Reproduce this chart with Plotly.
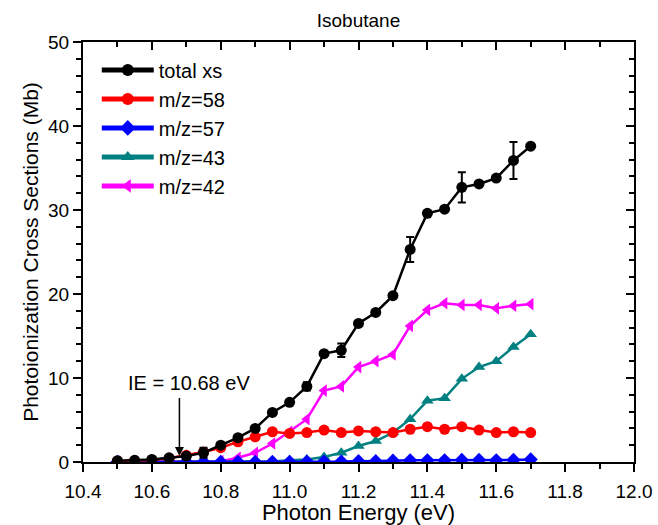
import plotly.graph_objects as go

energy = [10.50, 10.55, 10.60, 10.65, 10.70, 10.75, 10.80, 10.85, 10.90, 10.95,
          11.00, 11.05, 11.10, 11.15, 11.20, 11.25, 11.30, 11.35, 11.40, 11.45,
          11.50, 11.55, 11.60, 11.65, 11.70]

total_xs = [0.15, 0.2, 0.3, 0.5, 0.7, 1.1, 2.0, 2.9, 4.0, 5.9,
            7.1, 9.0, 12.9, 13.3, 16.5, 17.8, 19.8, 25.3, 29.6, 30.1,
            32.7, 33.1, 33.8, 35.9, 37.6]
total_err = [0, 0, 0, 0, 0, 0.6, 0, 0, 0, 0,
             0, 0.5, 0, 0.8, 0, 0, 0, 1.5, 0, 0,
             1.8, 0, 0, 2.2, 0]
mz58 = [0.1, 0.15, 0.25, 0.45, 0.8, 1.2, 1.7, 2.4, 3.0, 3.6,
        3.4, 3.5, 3.8, 3.5, 3.7, 3.6, 3.5, 3.9, 4.2, 3.9,
        4.2, 3.8, 3.5, 3.6, 3.5]
mz57 = [0.0, 0.0, 0.0, 0.0, 0.0, 0.0, 0.0, 0.0, 0.0, 0.0,
        0.02, 0.03, 0.05, 0.05, 0.1, 0.1, 0.15, 0.2, 0.2, 0.2,
        0.25, 0.25, 0.2, 0.25, 0.3]
mz43 = [0.0, 0.0, 0.0, 0.0, 0.0, 0.0, 0.0, 0.0, 0.0, 0.05,
        0.2, 0.3, 0.6, 1.1, 1.9, 2.5, 3.5, 5.1, 7.3, 7.6,
        9.9, 11.3, 12.0, 13.7, 15.2]
mz42 = [0.05, 0.05, 0.05, 0.05, 0.05, 0.1, 0.1, 0.5, 1.1, 2.2,
        3.6, 5.1, 8.5, 9.0, 11.3, 12.0, 12.8, 16.2, 18.1, 18.9,
        18.7, 18.7, 18.3, 18.6, 18.8]

ie_value = 10.68
ie_label = "IE = 10.68 eV"

FONT = "Arial, Liberation Sans, sans-serif"

fig = go.Figure()

series = [
    ("total xs", total_xs, "black", "circle", total_err),
    ("m/z=58", mz58, "#ff0000", "circle", None),
    ("m/z=57", mz57, "#0000ff", "diamond", None),
    ("m/z=43", mz43, "#008080", "triangle-up", None),
    ("m/z=42", mz42, "#ff00ff", "triangle-left", None),
]

for rank, (name, vals, col, sym, err) in reversed(list(enumerate(series))):
    kw = {}
    if err is not None:
        kw["error_y"] = dict(type="data", array=err, visible=True, color=col,
                             thickness=2, width=4)
    fig.add_trace(go.Scatter(
        x=energy, y=vals, name=name, mode="lines+markers",
        line=dict(color=col, width=2.5),
        marker=dict(color=col, symbol=sym, size=11, line=dict(width=0)),
        legendrank=rank + 1, **kw))

# invisible trace for mirrored inside-tick axes
fig.add_trace(go.Scatter(x=[10.4], y=[0], xaxis="x2", yaxis="y2",
                         mode="markers", marker=dict(opacity=0),
                         showlegend=False, hoverinfo="skip"))

fig.add_annotation(x=ie_value, y=0.7, ax=ie_value, ay=7.8, xref="x", yref="y",
                   axref="x", ayref="y", showarrow=True, arrowhead=2,
                   arrowsize=1.2, arrowwidth=1.5, arrowcolor="black", text="")
fig.add_annotation(x=10.525, y=9.4, xref="x", yref="y", text=ie_label,
                   showarrow=False, xanchor="left", yanchor="middle",
                   font=dict(family=FONT, size=20, color="black"))

axis_common = dict(showgrid=False, zeroline=False, linecolor="black",
                   linewidth=2, color="black", automargin=False,
                   tickfont=dict(family=FONT, size=19, color="black"))

fig.update_layout(
    width=658, height=525,
    margin=dict(l=83, r=24, t=42, b=63),
    paper_bgcolor="white", plot_bgcolor="white",
    title=dict(text="Isobutane", x=358.5 / 658, xanchor="center",
               y=1 - 20 / 525, yanchor="middle",
               font=dict(family=FONT, size=19, color="black")),
    showlegend=True,
    legend=dict(x=0.025, y=0.98, xanchor="left", yanchor="top",
                bgcolor="rgba(0,0,0,0)", itemwidth=52,
                font=dict(family=FONT, size=20, color="black"),
                tracegroupgap=0, itemsizing="constant"),
    xaxis=dict(range=[10.4, 12.0], tick0=10.4, dtick=0.2, tickformat=".1f",
               ticks="outside", ticklen=8, tickwidth=2, mirror=True,
               ticklabelstandoff=3,
               minor=dict(dtick=0.1, tick0=10.4, ticks="outside", ticklen=5,
                          tickwidth=2, tickcolor="black"),
               title=dict(text="Photon Energy (eV)", standoff=2,
                          font=dict(family=FONT, size=22, color="black")),
               **axis_common),
    yaxis=dict(range=[0, 50], tick0=0, dtick=10,
               ticks="outside", ticklen=8, tickwidth=2, mirror=True,
               minor=dict(dtick=2, ticks="outside", ticklen=5, tickwidth=2,
                          tickcolor="black"),
               title=dict(text="Photoionization Cross Sections (Mb)", standoff=4,
                          font=dict(family=FONT, size=21, color="black")),
               **axis_common),
    xaxis2=dict(range=[10.4, 12.0], overlaying="x", side="top", tick0=10.4,
                dtick=0.2, ticks="inside", ticklen=8, tickwidth=2,
                showticklabels=False, showgrid=False, zeroline=False,
                showline=False, tickcolor="black", automargin=False,
                minor=dict(dtick=0.1, tick0=10.4, ticks="inside", ticklen=5,
                           tickwidth=2, tickcolor="black")),
    yaxis2=dict(range=[0, 50], overlaying="y", side="right", tick0=0, dtick=10,
                ticks="inside", ticklen=8, tickwidth=2, showticklabels=False,
                showgrid=False, zeroline=False, showline=False,
                tickcolor="black", automargin=False,
                minor=dict(dtick=2, ticks="inside", ticklen=5, tickwidth=2,
                           tickcolor="black")),
)

fig.write_html("out.html")
